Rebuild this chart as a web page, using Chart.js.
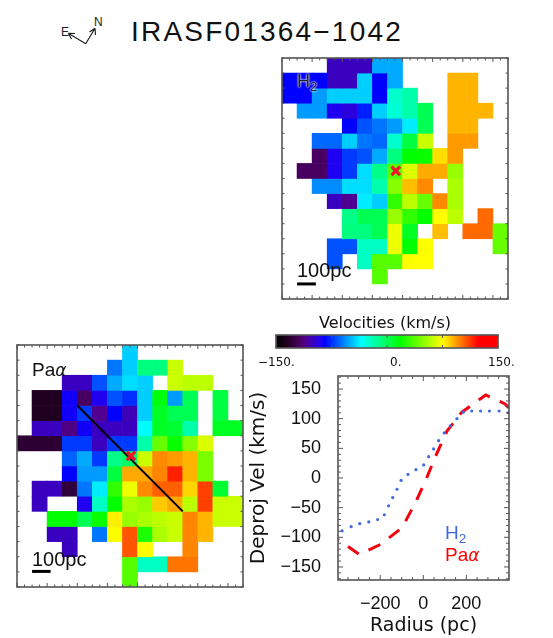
<!DOCTYPE html>
<html>
<head>
<meta charset="utf-8">
<script src="https://cdn.jsdelivr.net/npm/chart.js@4"></script>
<style>
  html, body { margin: 0; padding: 0; background: #fff; }
  #page { position: relative; width: 553px; height: 638px; overflow: hidden; font-family: "Liberation Sans", sans-serif; color: #111; }
  canvas, .t, svg { position: absolute; }
  .t { white-space: nowrap; line-height: 1; }
  .t sub { font-size: 0.72em; vertical-align: -0.28em; line-height: 0; }
  .t i { font-family: "DejaVu Sans", sans-serif; font-size: 0.9em; }
</style>
</head>
<body>
<div id="page">
  <div class="t" style="left:131px;top:18px;font-size:28px;letter-spacing:2.2px">IRASF01364−1042</div>
  <svg style="left:55px;top:12px" width="55" height="40" viewBox="55 12 55 40" fill="none" stroke="#222" stroke-width="1.2">
    <path d="M85.7 43.7 L68.3 33.3 M68.3 33.3 L75 33.5 M68.3 33.3 L71.5 39 M85.7 43.7 L95 28.3 M95 28.3 L89.5 32 M95 28.3 L95.5 35"/>
    <text x="61" y="36" font-size="12" fill="#222" stroke="none" font-family="Liberation Sans">E</text>
    <text x="94" y="26" font-size="12" fill="#222" stroke="none" font-family="Liberation Sans">N</text>
  </svg>

  <canvas id="h2Map" width="234" height="249" style="left:278px;top:54px"></canvas>
  <canvas id="paMap" width="234" height="250" style="left:13px;top:341px"></canvas>
  <canvas id="colorBar" width="230" height="21" style="left:272px;top:331px"></canvas>
  <canvas id="rotation" width="275" height="267" style="left:245px;top:370px"></canvas>

  <div class="t" style="left:297px;top:72px;font-size:18px;color:#222;text-shadow:0 0 2px #fff,0 0 2px #fff">H<sub>2</sub></div>
  <div class="t" style="left:297px;top:260px;font-size:20px">100pc</div>
  <div class="t" style="left:32px;top:360px;font-size:19px">Pa<i>α</i></div>
  <div class="t" style="left:32px;top:549px;font-size:20px">100pc</div>

  <div class="t" style="left:319px;top:315px;font-size:16px;font-family:'DejaVu Sans'">Velocities (km/s)</div>
  <div class="t" style="left:258px;top:356px;font-size:12px;font-family:'DejaVu Sans'">−150.</div>
  <div class="t" style="left:390px;top:356px;font-size:12px;font-family:'DejaVu Sans'">0.</div>
  <div class="t" style="left:488px;top:356px;font-size:12px;font-family:'DejaVu Sans'">150.</div>

  <div class="t" style="left:445px;top:523px;font-size:19px;color:#4169e1">H<sub>2</sub></div>
  <div class="t" style="left:445px;top:545px;font-size:19px;color:#f00">Pa<i>α</i></div>
</div>

<script>
const n = null;

// velocity map cells, km/s, one list per row from the top
const h2Rows = [
  [n, n, n, -100, -100, -100, -51, -51, n, n, n, n, n, n, n],
  [-84, -84, -84, -100, -100, -44, -84, -51, n, n, n, 89, 89, n, n],
  [-84, -84, -54, -44, -44, -44, -84, -24, -17, n, n, 89, 89, n, n],
  [n, -54, -54, -90, -94, -78, -44, -26, -17, 1, n, 89, 89, 89, n],
  [n, n, n, n, -84, -68, -61, -54, -38, 1, n, 89, 89, n, n],
  [n, n, -64, -64, -44, -61, -64, -24, 5, 63, n, 94, 94, n, n],
  [n, n, -118, -90, -73, -68, -51, -8, 18, 20, 81, 94, n, n, n],
  [n, -118, -118, -90, -73, -41, -10, 37, 67, 91, 91, 52, n, n, n],
  [n, n, -57, -57, -41, -41, -17, 48, 87, 97, n, 56, n, n, n],
  [n, n, n, -100, -110, -38, -44, 29, 60, 41, 97, 56, n, n, n],
  [n, n, n, n, -10, 1, 1, 52, 29, 18, 75, 60, n, 103, n],
  [n, n, n, n, -8, -8, 1, 71, 11, n, 87, n, 103, 103, 41],
  [n, n, n, -68, -68, -22, -22, 71, 18, 75, n, n, n, n, 41],
  [n, n, n, -68, n, -22, 37, 37, 75, 75, n, n, n, n, n],
  [n, n, n, n, n, n, 37, n, n, n, n, n, n, n, n],
  [n, n, n, n, n, n, n, n, n, n, n, n, n, n, n]
];

const paRows = [
  [n, n, n, n, n, n, n, -44, n, n, n, n, n, n, n],
  [n, n, n, n, n, n, -61, -44, -8, -8, 63, n, n, n, n],
  [n, n, n, -100, -100, -68, -51, -41, -44, n, 63, 60, 60, n, n],
  [n, -135, -135, -87, -118, -90, -68, -75, -44, 15, -54, 1, n, 5, n],
  [n, -135, -135, -87, -73, -110, -84, -102, -44, 11, 1, 1, n, 5, n],
  [n, -100, -100, -112, -87, -100, -100, -100, -35, 11, 8, -17, n, 11, 11],
  [-130, -130, -130, -73, -73, -100, -73, -73, -17, 41, 20, 48, 67, n, n],
  [n, n, n, -65, -51, -73, -10, -3, 63, 97, 94, 89, 45, n, n],
  [n, n, n, -84, -54, -54, 5, 91, 91, 98, 117, 89, 45, n, n],
  [n, -100, -100, -128, -61, -38, 29, 71, 97, 105, 105, 83, 111, 8, n],
  [n, -100, n, n, -90, -22, 18, 56, 52, 85, 91, 60, 111, 63, 63],
  [n, n, 18, 18, 1, 20, 78, 52, 56, 60, 63, 98, 89, 63, 63],
  [n, n, -100, -100, n, -61, 75, 107, 24, 56, 63, 98, 89, n, n],
  [n, n, n, -100, n, n, n, 107, 75, n, n, 98, n, n, n],
  [n, n, n, n, n, n, n, 37, -22, -22, 101, 101, n, n, n],
  [n, n, n, n, n, n, n, 37, n, n, n, n, n, n, n]
];

const mapColumns = ['0', '1', '2', '3', '4', '5', '6', '7', '8', '9', '10', '11', '12', '13', '14'];

// colour table of the velocity bar
const colorVelocities = [-150, -135, -118, -110, -100, -90, -84, -34.5, 18, 75, 123, 150];
const colorStops = ['#000000', '#200020', '#480060', '#500090', '#3a00c0', '#2000f0', '#0000ff', '#00ffff', '#00ff00', '#ffff00', '#ff0000', '#ff0000'];

// rotation curves
const h2Radius = [-377, -335, -295, -253, -212, -181, -161, -142, -122, -103, -71, -34, 2, 25, 48, 71, 97, 125, 156, 185, 225, 266, 307, 352, 394];
const h2Velocity = [-89, -82, -77, -74, -70, -62, -47, -33, -19, -4, 6, 14, 22, 36, 49, 63, 76, 88, 100, 111, 113, 113, 113, 113, 110];
const paRadius = [-395, -297, -199, -99, -37, 12, 60, 110, 179, 290, 349, 380, 398];
const paVelocity = [-104, -129, -112, -84, -42, -3, 39, 79, 111, 140, 130, 125, 118];
const radiusTicks = [-200, 0, 200];
const velocityTicks = [-150, -100, -50, 0, 50, 100, 150];

// slit, centre marks and scale bars, in map cell units
const paSlit = [{x: 4, y: 4}, {x: 11, y: 11}];
const h2Centre = [{x: 7.55, y: 7.5}];
const paCentre = [{x: 7.57, y: 7.33}];
const h2ScaleBar = [{x: 1, y: 15}, {x: 2.25, y: 15}];
const paScaleBar = [{x: 1, y: 14.97}, {x: 2.23, y: 14.97}];

function hexToRgb(h) {
  return [1, 3, 5].map(i => parseInt(h.slice(i, i + 2), 16));
}

function velocityColor(v) {
  if (v === null) return 'rgba(0,0,0,0)';
  let i = 0;
  while (i < colorVelocities.length - 2 && v > colorVelocities[i + 1]) i++;
  const f = (v - colorVelocities[i]) / (colorVelocities[i + 1] - colorVelocities[i]);
  const a = hexToRgb(colorStops[i]), b = hexToRgb(colorStops[i + 1]);
  return 'rgb(' + a.map((c, k) => Math.round(c + (b[k] - c) * f)).join(',') + ')';
}

// IDL style frame: grey box with ticks pointing inwards on all four sides
const frameTicks = {
  id: 'frameTicks',
  afterDatasetsDraw(chart, args, opts) {
    const { ctx, chartArea: a } = chart;
    ctx.save();
    ctx.strokeStyle = '#555';
    ctx.lineWidth = 1;
    ctx.beginPath();
    const along = (axis, horizontal) => {
      const scale = chart.scales[axis.id];
      const first = Math.ceil(scale.min / axis.step);
      for (let k = first; k * axis.step <= scale.max; k++) {
        const v = k * axis.step;
        const p = scale.getPixelForValue(v);
        const len = axis.major && Math.abs(v % axis.major) < 1e-6 ? opts.majorLen : opts.minorLen;
        if (horizontal) {
          ctx.moveTo(p, a.top); ctx.lineTo(p, a.top + len);
          ctx.moveTo(p, a.bottom); ctx.lineTo(p, a.bottom - len);
        } else {
          ctx.moveTo(a.left, p); ctx.lineTo(a.left + len, p);
          ctx.moveTo(a.right, p); ctx.lineTo(a.right - len, p);
        }
      }
    };
    along(opts.x, true);
    if (opts.y) along(opts.y, false);
    ctx.stroke();
    ctx.lineWidth = 1.6;
    ctx.strokeRect(a.left, a.top, a.right - a.left, a.bottom - a.top);
    ctx.restore();
  }
};
Chart.register(frameTicks);
Chart.defaults.animation = false;
Chart.defaults.responsive = false;
Chart.defaults.plugins.legend.display = false;
Chart.defaults.plugins.tooltip.enabled = false;

function velocityMap(id, rows, centre, scaleBar, slit) {
  const cells = rows.map((row, r) => ({
    type: 'bar',
    data: row.map(v => v === null ? null : [r, r + 1]),
    backgroundColor: row.map(velocityColor),
    barPercentage: 1,
    categoryPercentage: 1,
    grouped: false,
    borderWidth: 0,
    xAxisID: 'x',
    yAxisID: 'y',
    order: 3
  }));
  const overlay = (data, extra) => Object.assign({
    type: 'line', data, xAxisID: 'xp', yAxisID: 'y', pointRadius: 0, order: 1
  }, extra);
  const sets = cells.concat([
    overlay(scaleBar, { borderColor: '#000', borderWidth: 3 }),
    overlay(centre, {
      showLine: false, pointStyle: 'crossRot', pointRadius: 6, pointBorderWidth: 3.2,
      pointBorderColor: '#f0142a', order: 0
    })
  ]);
  if (slit) sets.push(overlay(slit, { borderColor: '#000', borderWidth: 2 }));
  new Chart(document.getElementById(id), {
    data: { labels: mapColumns, datasets: sets },
    options: {
      layout: { padding: 4, autoPadding: false },
      scales: {
        x: { display: false },
        xp: { type: 'linear', display: false, min: 0, max: 15 },
        y: { type: 'linear', display: false, min: 0, max: 16, reverse: true }
      },
      plugins: {
        frameTicks: {
          majorLen: 4, minorLen: 2.5,
          x: { id: 'xp', step: 0.5, major: 2 },
          y: { id: 'y', step: 1 }
        }
      }
    }
  });
}

velocityMap('h2Map', h2Rows, h2Centre, h2ScaleBar);
velocityMap('paMap', paRows, paCentre, paScaleBar, paSlit);

new Chart(document.getElementById('colorBar'), {
  type: 'bar',
  data: {
    labels: ['Velocities'],
    datasets: [{
      data: [[-150, 150]],
      barPercentage: 1,
      categoryPercentage: 1,
      backgroundColor(c) {
        const area = c.chart.chartArea;
        if (!area) return '#000';
        const g = c.chart.ctx.createLinearGradient(area.left, 0, area.right, 0);
        colorVelocities.forEach((v, i) => g.addColorStop((v + 150) / 300, colorStops[i]));
        return g;
      }
    }]
  },
  options: {
    indexAxis: 'y',
    layout: { padding: 4, autoPadding: false },
    scales: {
      x: { type: 'linear', display: false, min: -150, max: 150 },
      y: { display: false }
    },
    plugins: {
      frameTicks: {
        majorLen: 3, minorLen: 3,
        x: { id: 'x', step: 75 }
      }
    }
  }
});

const tickFont = { family: 'Liberation Sans', size: 18 };
const minusLabel = v => String(v).replace('-', '−');

new Chart(document.getElementById('rotation'), {
  type: 'scatter',
  data: {
    datasets: [
      {
        data: h2Radius.map((x, i) => ({ x, y: h2Velocity[i] })),
        showLine: false,
        pointStyle: 'circle',
        pointRadius: 1.6,
        pointBackgroundColor: '#4169e1',
        pointBorderWidth: 0
      },
      {
        data: paRadius.map((x, i) => ({ x, y: paVelocity[i] })),
        showLine: true,
        borderColor: '#f5000f',
        borderWidth: 3,
        borderDash: [13, 11],
        borderDashOffset: 12,
        pointRadius: 0
      }
    ]
  },
  options: {
    layout: { padding: { top: 6, right: 11 }, autoPadding: false },
    scales: {
      x: {
        type: 'linear', min: -396, max: 398,
        grid: { display: false },
        border: { display: false },
        afterBuildTicks(scale) { scale.ticks = radiusTicks.map(value => ({ value })); },
        ticks: { maxRotation: 0, autoSkip: false, padding: 5, color: '#111', font: tickFont, callback: minusLabel },
        title: { display: true, text: 'Radius (pc)', color: '#111', font: { family: 'DejaVu Sans', size: 19 }, padding: 0 },
        afterFit(scale) { scale.height = 57; scale.paddingLeft = 0; scale.paddingRight = 0; }
      },
      y: {
        type: 'linear', min: -172, max: 172,
        grid: { display: false },
        border: { display: false },
        afterBuildTicks(scale) { scale.ticks = velocityTicks.map(value => ({ value })); },
        ticks: { autoSkip: false, padding: 9, color: '#111', font: tickFont, callback: minusLabel },
        title: { display: true, text: 'Deproj Vel (km/s)', color: '#111', font: { family: 'DejaVu Sans', size: 20 }, padding: { top: 2, bottom: 0 } },
        afterFit(scale) { scale.width = 93; scale.paddingTop = 0; scale.paddingBottom = 0; }
      }
    },
    plugins: {
      frameTicks: {
        majorLen: 5, minorLen: 3,
        x: { id: 'x', step: 50, major: 200 },
        y: { id: 'y', step: 10, major: 50 }
      }
    }
  }
});
</script>
</body>
</html>
